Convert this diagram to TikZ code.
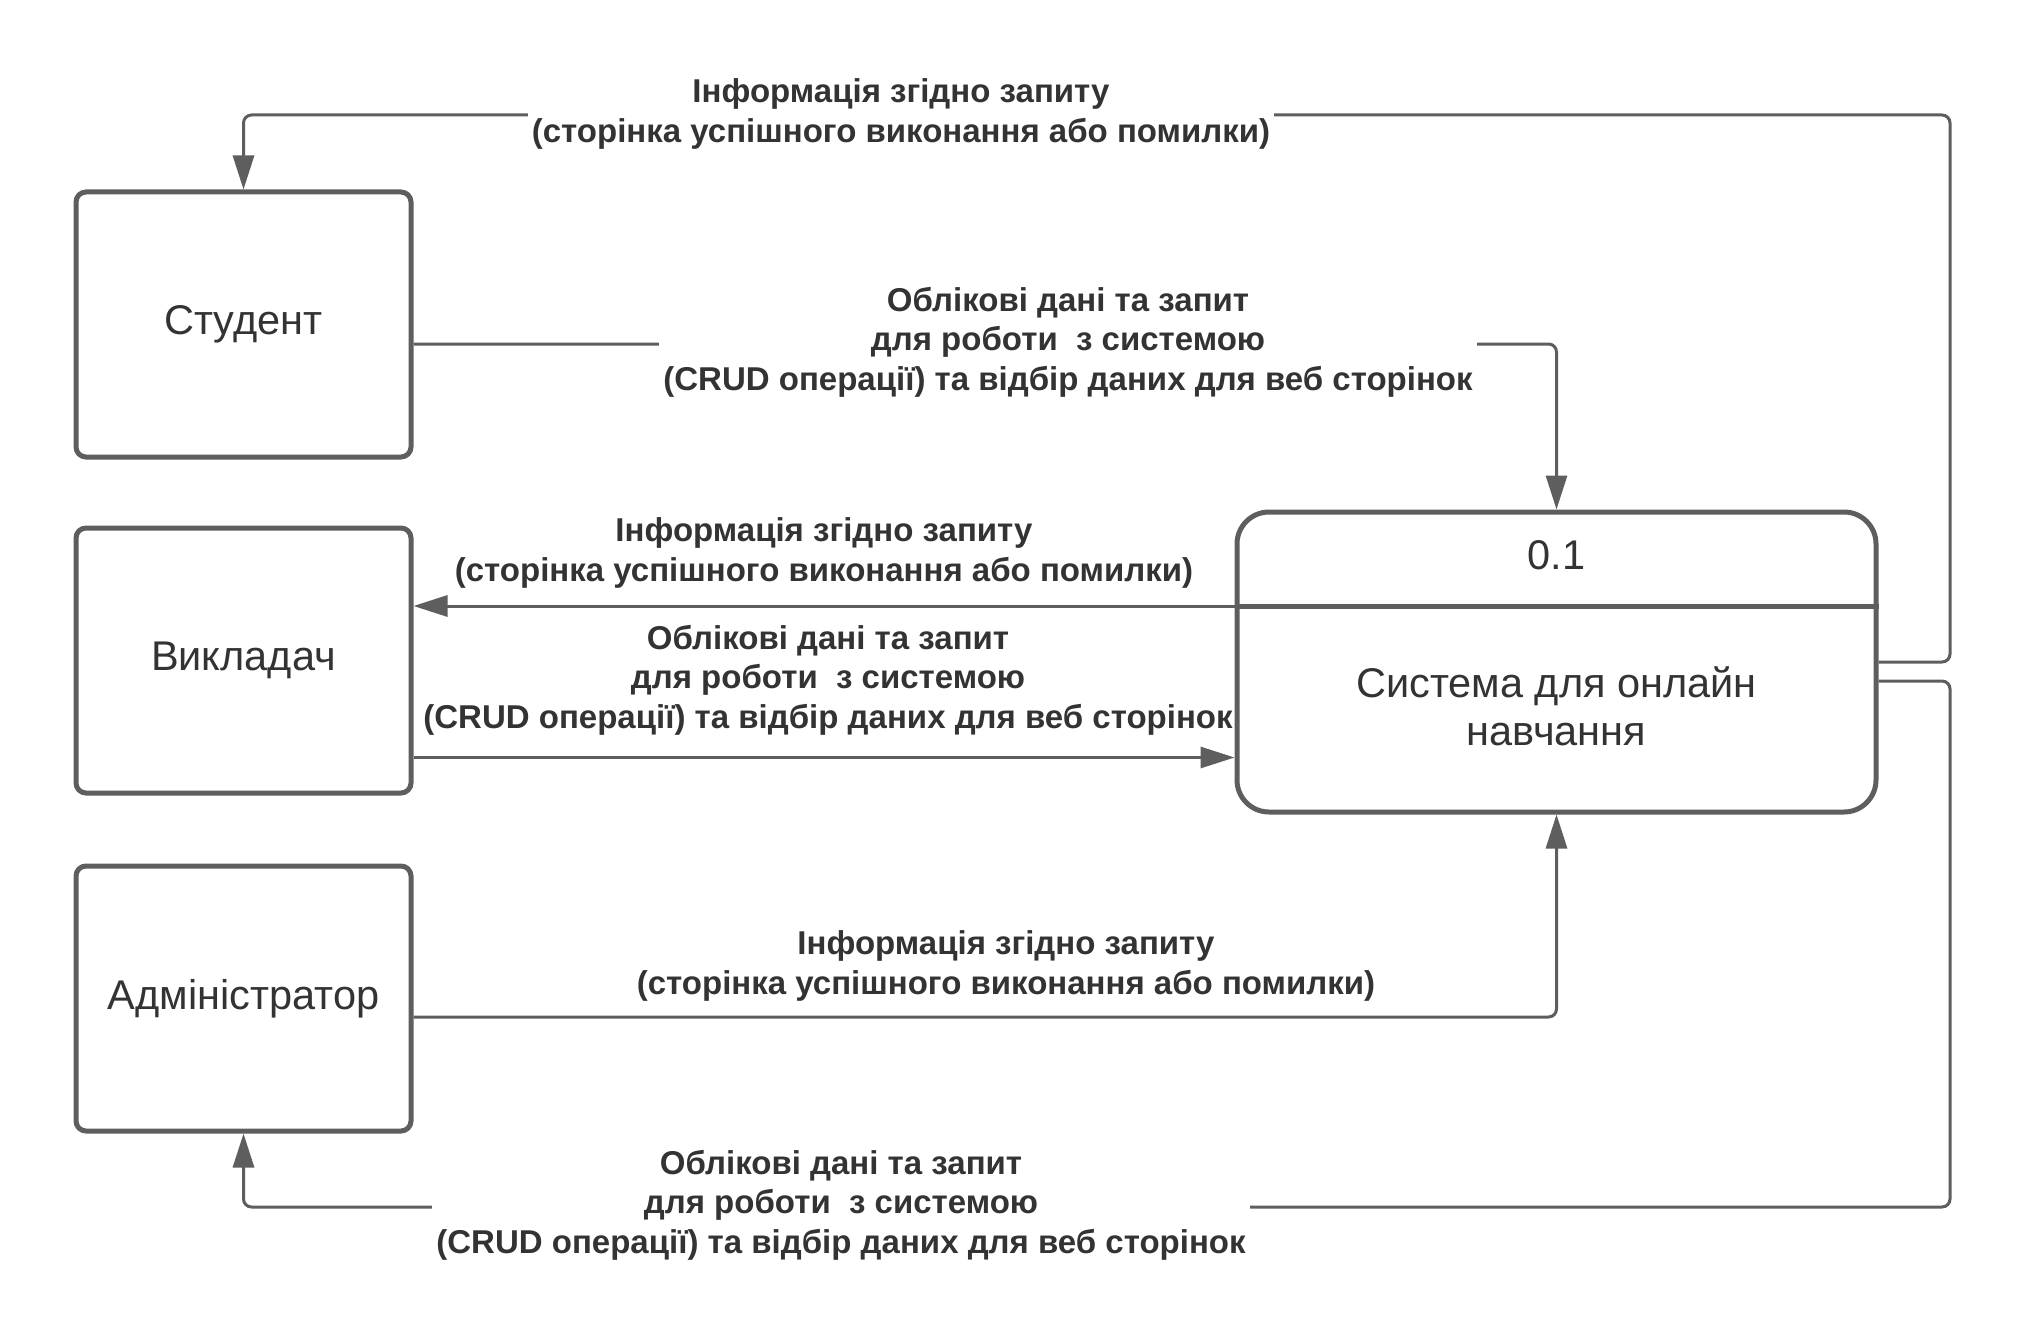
\documentclass[tikz,border=0pt]{standalone}
\usepackage{fontspec}
\setmainfont{Liberation Sans}
\usetikzlibrary{arrows.meta,calc}
\definecolor{ln}{HTML}{5E5E5E}
\definecolor{tx}{HTML}{333333}
\begin{document}
\begin{tikzpicture}[x=1pt,y=-1pt,
 ent/.style={draw=ln, line width=5pt, rounded corners=10pt, minimum width=335pt, minimum height=265pt, inner sep=0pt, text=tx, font=\fontsize{41.5}{48}\selectfont},
 flow/.style={draw=ln, line width=3pt, rounded corners=8pt, -{Triangle[length=34pt,width=21pt]}},
 lab/.style={text=tx, font=\bfseries\fontsize{33}{39.5}\selectfont, align=center, inner sep=0pt},
 onl/.style={lab, fill=white, inner xsep=4pt, inner ysep=2pt},
 ptxt/.style={text=tx, font=\fontsize{41.5}{48}\selectfont, align=center, inner sep=0pt}]
\useasboundingbox[fill=white] (0,0) rectangle (2031,1343);

\node[ent] (stud) at (243.5,324.5) {Студент};
\node[ent] (teach) at (243.5,660.5) {Викладач};
\node[ent] (adm) at (243.5,998.5) {Адміністратор};

\node[draw=ln, line width=5pt, rounded corners=32pt, minimum width=639pt, minimum height=300pt, inner sep=0pt] (proc) at (1556.5,662) {};
\draw[draw=ln, line width=5pt] ([yshift=-97pt]proc.north west) -- ([yshift=-97pt]proc.north east);
\node[ptxt] (num) at (1556.5,555) {0.1};
\node[ptxt] (sys) at (1556.5,706) {Система для онлайн\\навчання};

\coordinate (rt) at (1950,115);
\coordinate (rb) at (1950,1207);
\coordinate (ta) at ([yshift=56pt]proc.west);
\coordinate (tb) at ([yshift=-97pt]teach.east);

% process -> student
\draw[flow] (proc.east) -| (rt) -| (stud.north);
\node[onl] (l1) at (901,114) {Інформація згідно запиту\\(сторінка успішного виконання або помилки)};

% student -> process
\draw[flow] ([yshift=-19.5pt]stud.east) -| (proc.north);
\node[onl] (l2) at (1068,342) {Облікові дані та запит\\для роботи\ \ з системою\\(CRUD операції) та відбір даних для веб сторінок};

% process -> teacher
\draw[flow] (ta) -- (ta -| teach.east);
\node[lab] (l3) at (824,553) {Інформація згідно запиту\\(сторінка успішного виконання або помилки)};

% teacher -> process
\draw[flow] (tb) -- (tb -| proc.west);
\node[lab] (l4) at (828,680) {Облікові дані та запит\\для роботи\ \ з системою\\(CRUD операції) та відбір даних для веб сторінок};

% admin -> process
\draw[flow] ([yshift=-18.5pt]adm.east) -| (proc.south);
\node[lab] (l5) at (1006,966) {Інформація згідно запиту\\(сторінка успішного виконання або помилки)};

% process -> admin
\draw[flow] ([yshift=-19pt]proc.east) -| (rb) -| (adm.south);
\node[onl] (l6) at (841,1205) {Облікові дані та запит\\для роботи\ \ з системою\\(CRUD операції) та відбір даних для веб сторінок};
\end{tikzpicture}
\end{document}
